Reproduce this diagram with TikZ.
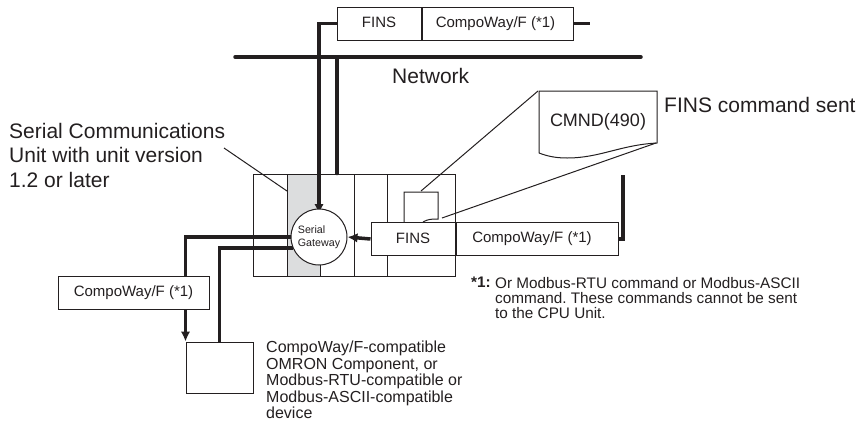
\documentclass[tikz,border=0pt]{standalone}
\usepackage{xcolor}
\usepackage{fontspec}
\setmainfont{Liberation Sans}
\usepackage{tikz}
\usetikzlibrary{
  arrows.meta,
  positioning,
  calc
}
\definecolor{InkDark}{HTML}{231F20}
\definecolor{UnitGray}{HTML}{DCDDDE}
\frenchspacing
\tikzset{
  every node/.style={
    text=InkDark
  },
  frame/.style={
    draw=InkDark,
    line width=1pt,
    inner sep=0pt
  },
  slot/.style={
    frame,
    minimum height=102pt
  },
  framebox/.style={
    frame,
    fill=white,
    font=\fontsize{15}{17}\selectfont,
    align=center,
    minimum height=33pt
  },
  label/.style={
    inner sep=0pt,
    anchor=north west,
    align=left
  },
  biglabel/.style={
    label,
    font=\fontsize{21}{24.3}\selectfont
  },
  smalllabel/.style={
    label,
    font=\fontsize{16}{16.4}\selectfont
  },
  leader/.style={
    draw=InkDark,
    line width=1pt
  },
  bus/.style={
    draw=InkDark,
    line width=3.5pt,
    line join=miter
  },
  message/.style={
    bus,
    -{Latex[length=10pt,width=9.5pt]}
  }
}

\begin{document}
\begin{tikzpicture}[x=1pt,y=-1pt]

  \useasboundingbox (0,0) rectangle (859,421);

  % rack
  \node[slot, minimum width=34pt] (slotA) at (270,225) {};
  \node[slot, minimum width=33pt, fill=UnitGray] (slotB) at (303.5,225) {};
  \node[slot, minimum width=34pt] (slotC) at (337,225) {};
  \node[slot, minimum width=33pt] (slotD) at (370.5,225) {};
  \node[slot, minimum width=68pt] (slotE) at (421,225) {};

  % small paper in the last slot
  \draw[leader, fill=white] (404,222) -- (404,192) -- (438,192) -- (438,219)
    .. controls (432,219) and (428,219) .. (423,222);

  \coordinate (netL) at (235,57);
  \coordinate (netR) at (641,57);
  \draw[bus, line cap=round] (netL) -- (netR);

  \node[framebox, minimum width=84pt] (finsTop) at (379,23.5) {\raisebox{2pt}{FINS}};
  \node[framebox, minimum width=151pt, right=0pt of finsTop] (compoTop) {\hspace*{-4pt}CompoWay/F (*1)};

  \node[framebox, minimum width=84pt] (finsMid) at (413,239) {\raisebox{2pt}{FINS}};
  \node[framebox, minimum width=162pt, right=0pt of finsMid] (compoMid) {\raisebox{-3pt}{CompoWay/F (*1)}\hspace*{10pt}};

  \node[framebox, minimum width=151pt] (compoLow) at (133.5,292.5) {CompoWay/F (*1)};
  \node[frame, minimum width=67pt, minimum height=51pt] (device) at (219.5,367.5) {};

  % gateway
  \draw[message] (finsTop.west) -| (319,214);
  \node[frame, circle, fill=white, minimum size=56pt, align=left,
    font=\fontsize{10.7}{13}\selectfont] (gateway) at (319,237) {Serial\\Gateway};

  \coordinate (stubTop) at (590,23.5);
  \draw[bus] (compoTop.east) -- (stubTop);
  \coordinate (stubMid) at (623,175);
  \draw[bus] (compoMid.east) -| (stubMid);
  \draw[bus, line cap=round] (337,57) -- (slotC.north);
  \draw[message] (finsMid.west) -- (gateway.east);

  \draw[bus] (gateway.west) -| (compoLow.north -| device.west);
  \draw[message] (compoLow.south -| device.west) -- (device.north west);
  \coordinate (gwLow) at ($(gateway.center)+(-26,11)$);
  \draw[bus] (gwLow) -| (device.north);

  % callouts
  \coordinate (slotLead) at (287,191);
  \coordinate (unitLead) at (224,148);
  \draw[leader] (unitLead) -- (slotLead);

  \draw[leader, fill=white] (539,153) -- (539,91) -- (657,91) -- (657,143)
    .. controls (620,145) and (600,158) .. (567,158)
    .. controls (555,158) and (547,156) .. (539,153);
  \node[font=\fontsize{18}{20}\selectfont, inner sep=0pt] (cmnd) at (598,122) {CMND(490)};
  \coordinate (paperA) at (421,191);
  \coordinate (paperB) at (442,218);
  \coordinate (noteA) at (538,91);
  \coordinate (noteB) at (656,143);
  \draw[leader] (noteA) -- (paperA);
  \draw[leader] (noteB) -- (paperB);

  % labels
  \node[biglabel] (netLabel) at (392,68) {Network};
  \node[biglabel] (sentLabel) at (664,97) {FINS command sent};
  \node[biglabel] (unitLabel) at (9,123) {Serial Communications\\Unit with unit version\\1.2 or later};
  \node[smalllabel] (devLabel) at (266,341) {CompoWay/F-compatible\\OMRON Component, or\\Modbus-RTU-compatible or\\Modbus-ASCII-compatible\\device};
  \node[smalllabel, font=\fontsize{15.3}{15}\bfseries\selectfont] (noteMark) at (471,277) {*1:};
  \node[smalllabel, font=\fontsize{15.3}{15}\selectfont] (noteText) at (495,277) {Or Modbus-RTU command or Modbus-ASCII\\command. These commands cannot be sent\\to the CPU Unit.};

\end{tikzpicture}
\end{document}
